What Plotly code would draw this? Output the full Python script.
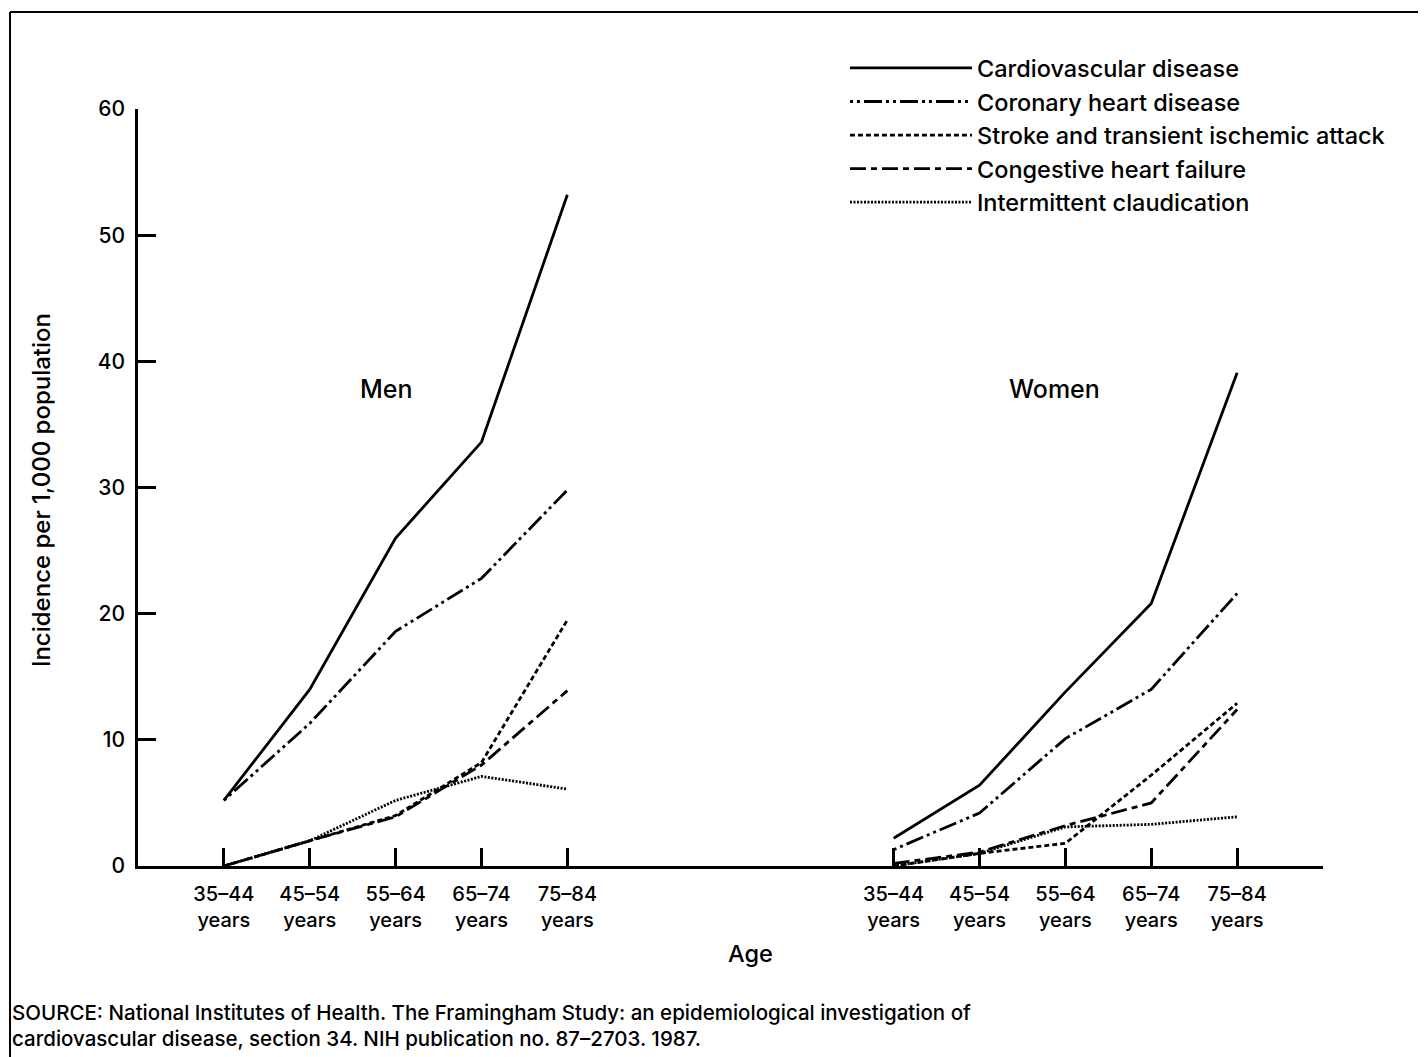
import plotly.graph_objects as go

age_groups = ["35–44", "45–54", "55–64", "65–74", "75–84"]
men_pos = [0, 1, 2, 3, 4]
women_pos = [7.8, 8.8, 9.8, 10.8, 11.8]

diseases = ["Cardiovascular disease", "Coronary heart disease",
            "Stroke and transient ischemic attack", "Congestive heart failure",
            "Intermittent claudication"]

men_cvd = [5.2, 14.0, 26.0, 33.6, 53.2]
men_chd = [5.2, 11.3, 18.6, 22.8, 29.8]
men_stroke = [0.0, 2.0, 4.0, 8.2, 19.5]
men_chf = [0.0, 2.0, 3.9, 8.0, 13.9]
men_claud = [0.0, 2.0, 5.2, 7.1, 6.1]

women_cvd = [2.2, 6.4, 13.8, 20.8, 39.1]
women_chd = [1.3, 4.2, 10.1, 14.0, 21.6]
women_stroke = [0.0, 1.0, 1.8, 7.2, 12.9]
women_chf = [0.2, 1.1, 3.2, 5.0, 12.4]
women_claud = [0.0, 1.0, 3.1, 3.3, 3.9]

men_series = [men_cvd, men_chd, men_stroke, men_chf, men_claud]
women_series = [women_cvd, women_chd, women_stroke, women_chf, women_claud]
dashes = ["solid", "3px,4px,3px,4px,18px,4px", "5px,3px", "16px,5px,6px,5px", "2px,1.5px"]

FONT = "Inter, Liberation Sans, Arial, sans-serif"
W = 500

fig = go.Figure()
for name, m, w, d in zip(diseases, men_series, women_series, dashes):
    fig.add_trace(go.Scatter(x=men_pos, y=m, mode="lines", name=name, legendgroup=name,
                             line=dict(color="black", width=2.8, dash=d), showlegend=True))
    fig.add_trace(go.Scatter(x=women_pos, y=w, mode="lines", name=name, legendgroup=name,
                             line=dict(color="black", width=2.8, dash=d), showlegend=False))

tick_vals = men_pos + women_pos + [12.8]
tick_text = [f"{a}<br>years" for a in age_groups] * 2 + [""]

fig.update_layout(
    width=1418, height=1049,
    paper_bgcolor="white", plot_bgcolor="white",
    margin=dict(l=130, r=103, t=101, b=191),
    font=dict(family=FONT, color="black", size=21, weight=W),
    showlegend=True,
    legend=dict(x=0.5966, y=1.083, xanchor="left", yanchor="top",
                font=dict(size=23.5, family=FONT, color="black", weight=W),
                bgcolor="rgba(0,0,0,0)", tracegroupgap=0, itemwidth=122),
    xaxis=dict(range=[-1, 12.8], tickvals=tick_vals, ticktext=tick_text,
               ticks="inside", ticklen=18, tickwidth=2.5, tickcolor="black",
               showline=True, linecolor="black", linewidth=2.5, showgrid=False,
               zeroline=False, tickfont=dict(size=20, family=FONT, weight=W),
               ticklabelstandoff=8),
    yaxis=dict(range=[0, 60], tickvals=[0, 10, 20, 30, 40, 50, 60],
               ticks="inside", ticklen=18, tickwidth=2.5, tickcolor="black",
               showline=True, linecolor="black", linewidth=2.5, showgrid=False,
               zeroline=False, tickfont=dict(size=21, family=FONT, weight=W),
               ticklabelstandoff=6),
    annotations=[
        dict(text="Men", x=1.89, y=37.8, xref="x", yref="y", showarrow=False,
             font=dict(size=25, family=FONT, weight=W)),
        dict(text="Women", x=9.67, y=37.8, xref="x", yref="y", showarrow=False,
             font=dict(size=25, family=FONT, weight=W)),
        dict(text="Incidence per 1,000 population", x=-0.0955, y=0.497, xref="paper",
             yref="paper", textangle=-90, showarrow=False, font=dict(size=24, family=FONT, weight=W)),
        dict(text="Age", x=0.5165, y=-0.137, xref="paper", yref="paper", showarrow=False,
             font=dict(size=23.5, family=FONT, weight=W)),
        dict(text="SOURCE: National Institutes of Health. The Framingham Study: an epidemiological investigation of",
             x=-0.108, y=-0.1935, xref="paper", yref="paper", xanchor="left", yanchor="middle",
             align="left", showarrow=False, font=dict(size=20.5, family=FONT, weight=W)),
        dict(text="cardiovascular disease, section 34. NIH publication no. 87–2703. 1987.",
             x=-0.108, y=-0.2285, xref="paper", yref="paper", xanchor="left", yanchor="middle",
             align="left", showarrow=False, font=dict(size=20.5, family=FONT, weight=W)),
    ],
    shapes=[
        dict(type="line", xref="paper", yref="paper", x0=-0.108, x1=1.1, y0=1.128, y1=1.128,
             line=dict(color="black", width=2)),
        dict(type="line", xref="paper", yref="paper", x0=-0.108, x1=-0.108, y0=1.128, y1=-0.27,
             line=dict(color="black", width=2)),
    ],
)

fig.write_html("out.html")
